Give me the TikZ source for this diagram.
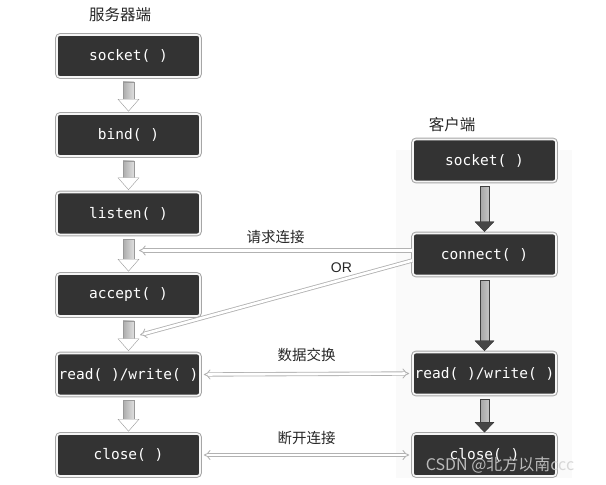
\documentclass[tikz,border=0pt]{standalone}
\usepackage{fontspec}
\usetikzlibrary{arrows.meta,calc}
\setmonofont{DejaVu Sans Mono}
\setsansfont{Liberation Sans}
\newfontfamily\cjk{Noto Sans CJK SC}
\tikzset{>={Implies[scale=2]}}
\tikzset{
  func/.style={preaction={draw=gray!70, line width=3.6pt}, draw=white!92!gray, line width=1.6pt,
    fill=black!80, rounded corners=3pt, minimum width=143pt, minimum height=42pt, inner sep=0pt,
    text=white, font=\ttfamily\fontsize{14.5}{16}\selectfont},
  title/.style={font=\cjk\fontsize{15.5}{17}\selectfont, text=black!85},
  lbl/.style={font=\cjk\fontsize{14.5}{16}\selectfont, text=black!85},
  link/.style={draw=gray!60, double=white, double distance=2.6pt, line width=0.85pt},
}
% hollow step arrow of the server column
\newcommand{\srvstep}[2]{%
  \draw[gray!80, left color=gray!65, right color=gray!25] let \p1=(#1.south), \p2=(#2.north) in
    (\x1-5.5pt,\y1-4pt) rectangle (\x1+5.5pt,\y2+14pt);
  \filldraw[gray!80, fill=white] let \p1=(#1.south), \p2=(#2.north) in
    (\x1-10.5pt,\y2+14pt) -- (\x1+10.5pt,\y2+14pt) -- (\x1,\y2+2pt) -- cycle;
}
% solid step arrow of the client column
\newcommand{\clistep}[2]{%
  \draw[gray!50!black, left color=gray!70, right color=gray!45] let \p1=(#1.south), \p2=(#2.north) in
    (\x1-4.5pt,\y1-4pt) rectangle (\x1+4.5pt,\y2+11pt);
  \filldraw[gray!40!black, fill=gray!55!black] let \p1=(#1.south), \p2=(#2.north) in
    (\x1-9.5pt,\y2+11pt) -- (\x1+9.5pt,\y2+11pt) -- (\x1,\y2+1pt) -- cycle;
}

\begin{document}
\begin{tikzpicture}[x=1pt, y=-1pt]
  \useasboundingbox (0,0) rectangle (606,485);
  \fill[gray!4] (396,150) rectangle (572,478);

  % server side
  \node[title] (srvTitle) at (120,15) {服务器端};
  \node[func] (srvSocket) at (128.5,56) {socket( )};
  \node[func] (srvBind) at (128.5,135) {bind( )};
  \node[func] (srvListen) at (128.5,213.5) {listen( )};
  \node[func] (srvAccept) at (128.5,295) {accept( )};
  \node[func] (srvRW) at (128.5,374.5) {read( )/write( )};
  \node[func] (srvClose) at (128.5,455) {close( )};
  \srvstep{srvSocket}{srvBind}
  \srvstep{srvBind}{srvListen}
  \srvstep{srvListen}{srvAccept}
  \srvstep{srvAccept}{srvRW}
  \srvstep{srvRW}{srvClose}

  % client side
  \node[title] (cliTitle) at (452,125) {客户端};
  \node[func] (cliSocket) at (484.5,160.5) {socket( )};
  \node[func] (cliConnect) at (484.5,254.5) {connect( )};
  \node[func] (cliRW) at (484.5,373.5) {read( )/write( )};
  \node[func] (cliClose) at (484.5,455) {close( )};
  \clistep{cliSocket}{cliConnect}
  \clistep{cliConnect}{cliRW}
  \clistep{cliRW}{cliClose}

  % connections
  \coordinate (reqEnd) at (139,250.5);
  \coordinate (orEnd) at (140,335);
  \draw[link, ->] ($(cliConnect.west)+(0,-4)$) -- node[lbl, above=3pt] {请求连接} (reqEnd);
  \draw[link, ->] ($(cliConnect.west)+(0,6)$) -- node[pos=0.26, above=3pt, font=\sffamily\fontsize{14}{16}\selectfont, text=black!85] {OR} (orEnd);
  \draw[link, <->, shorten <=3pt, shorten >=3pt] (srvRW.east) -- node[lbl, above=9pt] {数据交换} (cliRW.west);
  \draw[link, <->, shorten <=3pt, shorten >=3pt] (srvClose.east) -- node[lbl, above=7pt] {断开连接} (cliClose.west);

  \node[font=\cjk\fontsize{16}{18}\selectfont, text=gray!35, opacity=0.85] (mark) at (500,465) {CSDN @北方以南ccc};
\end{tikzpicture}
\end{document}
